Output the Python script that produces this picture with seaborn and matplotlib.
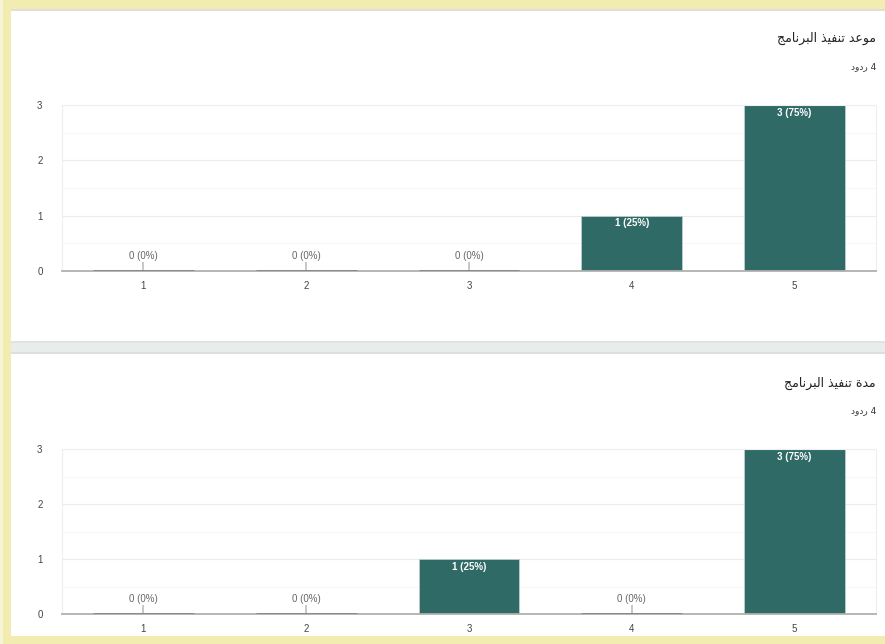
import numpy as np
import pandas as pd
import matplotlib
matplotlib.use("Agg")
import matplotlib.pyplot as plt
from matplotlib.patches import Rectangle
import seaborn as sns

# ---- data ----
CATEGORIES  = ["1", "2", "3", "4", "5"]
TIMING_VALS = [0, 0, 0, 1, 3]      # موعد تنفيذ البرنامج
LENGTH_VALS = [0, 0, 1, 0, 3]      # مدة تنفيذ البرنامج
TITLES      = ["موعد تنفيذ البرنامج", "مدة تنفيذ البرنامج"]
SUBTITLE    = "4 ردود"
TOTAL       = 4

BAR_COLOR = "#2f6a66"
W, H = 885, 644

sns.set_theme(style="white")
plt.rcParams["font.family"] = ["Liberation Sans", "DejaVu Sans"]

# minimal arabic shaping (matplotlib has no bidi/shaping)
FORMS = {  # iso, fin, ini, med
    "ا": (0xFE8D, 0xFE8E, None, None), "ب": (0xFE8F, 0xFE90, 0xFE91, 0xFE92),
    "ة": (0xFE93, 0xFE94, None, None), "ت": (0xFE95, 0xFE96, 0xFE97, 0xFE98),
    "ج": (0xFE9D, 0xFE9E, 0xFE9F, 0xFEA0), "د": (0xFEA9, 0xFEAA, None, None),
    "ذ": (0xFEAB, 0xFEAC, None, None), "ر": (0xFEAD, 0xFEAE, None, None),
    "ع": (0xFEC9, 0xFECA, 0xFECB, 0xFECC), "ف": (0xFED1, 0xFED2, 0xFED3, 0xFED4),
    "ل": (0xFEDD, 0xFEDE, 0xFEDF, 0xFEE0), "م": (0xFEE1, 0xFEE2, 0xFEE3, 0xFEE4),
    "ن": (0xFEE5, 0xFEE6, 0xFEE7, 0xFEE8), "و": (0xFEED, 0xFEEE, None, None),
    "ي": (0xFEF1, 0xFEF2, 0xFEF3, 0xFEF4),
}


def shape_rtl(s):
    out = []
    for i, c in enumerate(s):
        if c not in FORMS:
            out.append(c); continue
        f = FORMS[c]
        prev = s[i - 1] if i > 0 else ""
        nxt = s[i + 1] if i < len(s) - 1 else ""
        join_prev = prev in FORMS and FORMS[prev][2] is not None
        join_next = nxt in FORMS and f[2] is not None
        if join_prev and join_next: code = f[3]
        elif join_prev: code = f[1]
        elif join_next: code = f[2]
        else: code = f[0]
        out.append(chr(code))
    return "".join(out)[::-1]


def draw_panel(ax, values):
    df = pd.DataFrame({"cat": CATEGORIES, "n": values})
    sns.barplot(data=df, x="cat", y="n", color=BAR_COLOR, width=0.62,
                saturation=1, edgecolor="#b9cfcc", linewidth=0.6, ax=ax)
    ax.set_xlim(-0.5, len(CATEGORIES) - 0.5)
    ax.set_ylim(0, 3)
    ax.set_yticks([0, 1, 2, 3])
    ax.set_yticks([0.5, 1.5, 2.5], minor=True)
    ax.grid(axis="y", which="major", color="#ececec", lw=0.8)
    ax.grid(axis="y", which="minor", color="#f6f6f6", lw=0.8)
    ax.set_axisbelow(True)
    ax.set_xlabel(""); ax.set_ylabel("")
    for s in ["left", "top", "right"]:
        ax.spines[s].set_color("#eeeeee"); ax.spines[s].set_linewidth(0.8)
    ax.spines["bottom"].set_color("#b0b0b0"); ax.spines["bottom"].set_linewidth(1.3)
    ax.tick_params(axis="y", length=0, pad=14, labelsize=7, labelcolor="#444444")
    ax.tick_params(axis="x", length=0, pad=7, labelsize=7, labelcolor="#444444")
    for i, (p, v) in enumerate(zip(ax.patches, values)):
        pct = int(round(100 * v / TOTAL))
        if v == 0:
            p.set_edgecolor("#7d7d7d"); p.set_linewidth(1.8); p.set_zorder(3)
            ax.vlines(i, 0, 0.17, color="#bdbdbd", lw=1.2)
            ax.annotate(f"{v} ({pct}%)", (i, 0), xytext=(0, 7.5),
                        textcoords="offset points", ha="center", va="bottom",
                        fontsize=7, color="#666666")
        else:
            ax.annotate(f"{v} ({pct}%)", (i, v), xytext=(0, -2),
                        textcoords="offset points", ha="center", va="top",
                        fontsize=7, color="white", fontweight="bold")


fig = plt.figure(figsize=(W / 100, H / 100), dpi=100, facecolor="white")


def px_rect(x0, y0, x1, y1, color, z=0):
    fig.patches.append(Rectangle((x0 / W, 1 - y1 / H), (x1 - x0) / W, (y1 - y0) / H,
                                 transform=fig.transFigure, color=color, zorder=z, lw=0))


# frame and separator
px_rect(0, 0, 11, H, "#f3ecb0")
px_rect(0, 0, W, 9, "#f3ecb0")
px_rect(0, 636, W, H, "#f3ecb0")
px_rect(0, 0, 3, H, "#f8f4d8")
px_rect(11, 9, W, 11, "#dedede")
px_rect(11, 341, W, 354, "#e8eceb")
px_rect(11, 341, W, 343, "#dfe3e2")
px_rect(11, 352, W, 354, "#dcdfdf")

ax1 = fig.add_axes([62 / W, 1 - 271 / H, 814 / W, 166 / H])
ax2 = fig.add_axes([62 / W, 1 - 614 / H, 814 / W, 165 / H])
draw_panel(ax1, TIMING_VALS)
draw_panel(ax2, LENGTH_VALS)

for title, ty, sy in [(TITLES[0], 38, 67), (TITLES[1], 383, 411)]:
    fig.text(876 / W, 1 - ty / H, shape_rtl(title), ha="right", va="center",
             fontsize=9, color="#222222", family=["DejaVu Sans"])
    fig.text(876 / W, 1 - sy / H, shape_rtl(SUBTITLE), ha="right", va="center",
             fontsize=6.5, color="#333333", family=["DejaVu Sans"])

fig.savefig("out.png", dpi=100, facecolor="white")
